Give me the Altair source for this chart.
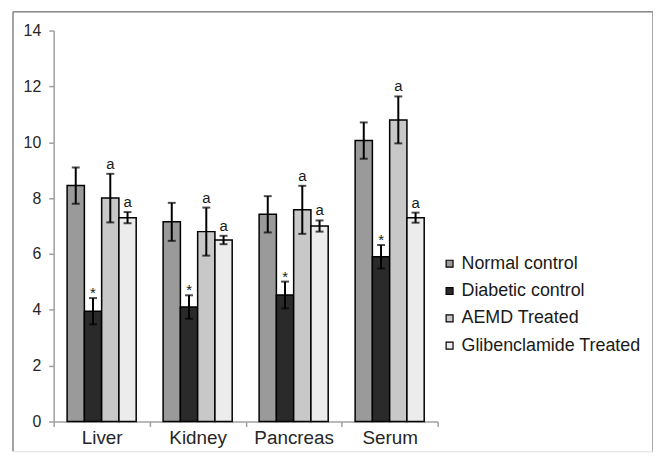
import altair as alt
import pandas as pd

organs = ["Liver", "Kidney", "Pancreas", "Serum"]
groups = ["Normal control", "Diabetic control", "AEMD Treated", "Glibenclamide Treated"]

normal = [8.45, 7.15, 7.42, 10.06]
normal_err = [0.65, 0.68, 0.65, 0.65]
diabetic = [3.95, 4.1, 4.53, 5.9]
diabetic_err = [0.47, 0.42, 0.48, 0.42]
aemd = [8.0, 6.8, 7.58, 10.8]
aemd_err = [0.87, 0.86, 0.86, 0.84]
glib = [7.3, 6.5, 7.0, 7.3]
glib_err = [0.2, 0.15, 0.2, 0.18]
marks = ["", "*", "a", "a"]

series = [normal, diabetic, aemd, glib]
errs = [normal_err, diabetic_err, aemd_err, glib_err]

rows = []
for gi, g in enumerate(groups):
    for oi, o in enumerate(organs):
        v = series[gi][oi]
        e = errs[gi][oi]
        rows.append({"organ": o, "group": g, "value": v,
                     "lo": v - e, "hi": v + e, "label": marks[gi]})
df = pd.DataFrame(rows)

W, H = 645, 443
FONT = "Liberation Sans"

xs = alt.Scale(domain=organs, range=[41, 428], paddingInner=0, paddingOuter=0)
xo = alt.Scale(domain=groups, paddingInner=0, paddingOuter=0.78)
ys = alt.Scale(domain=[0, 14], range=[413, 19], nice=False, zero=True)
fills = alt.Scale(domain=groups, range=["#9a9a9a", "#2a2a2a", "#c8c8c8", "#ececec"])

base = alt.Chart(df)

bars = base.mark_bar(stroke="black", strokeWidth=1.5).encode(
    x=alt.X("organ:N", scale=xs, sort=organs,
            axis=alt.Axis(title=None, offset=-(H - 413), labelAngle=0, tickBand="extent",
                          domainColor="#a0a0a0", tickColor="#a0a0a0", tickSize=5,
                          labelFontSize=19, labelFont=FONT, labelColor="#262626",
                          labelPadding=2, domainWidth=1.5, tickWidth=1.5)),
    xOffset=alt.XOffset("group:N", scale=xo, sort=groups),
    y=alt.Y("value:Q", scale=ys,
            axis=alt.Axis(title=None, offset=-41, values=[0, 2, 4, 6, 8, 10, 12, 14],
                          grid=False, domainColor="#a0a0a0", tickColor="#a0a0a0",
                          tickSize=5, labelFontSize=16, labelFont=FONT,
                          labelColor="#262626", labelPadding=8,
                          domainWidth=1.5, tickWidth=1.5)),
    fill=alt.Fill("group:N", scale=fills, sort=groups,
                  legend=alt.Legend(title=None, orient="none", legendX=431, legendY=245,
                                    symbolType="square", symbolSize=49,
                                    symbolStrokeColor="black", symbolStrokeWidth=1.2,
                                    labelFontSize=18, labelFont=FONT, labelColor="#1a1a1a",
                                    rowPadding=9.5, labelOffset=3, labelLimit=0, padding=0)),
)

err = base.mark_rule(color="black", strokeWidth=2).encode(
    x=alt.X("organ:N", scale=xs, sort=organs),
    xOffset=alt.XOffset("group:N", scale=xo, sort=groups),
    y=alt.Y("lo:Q", scale=ys),
    y2="hi:Q",
)

cap_hi = base.mark_tick(color="black", thickness=2, size=8, orient="horizontal").encode(
    x=alt.X("organ:N", scale=xs, sort=organs),
    xOffset=alt.XOffset("group:N", scale=xo, sort=groups),
    y=alt.Y("hi:Q", scale=ys),
)
cap_lo = base.mark_tick(color="black", thickness=2, size=8, orient="horizontal").encode(
    x=alt.X("organ:N", scale=xs, sort=organs),
    xOffset=alt.XOffset("group:N", scale=xo, sort=groups),
    y=alt.Y("lo:Q", scale=ys),
)

txt_a = base.transform_filter(alt.datum.label == "a").mark_text(
    fontSize=15, font=FONT, color="#1a1a1a", baseline="alphabetic", dy=-5).encode(
    x=alt.X("organ:N", scale=xs, sort=organs),
    xOffset=alt.XOffset("group:N", scale=xo, sort=groups),
    y=alt.Y("hi:Q", scale=ys),
    text="label:N",
)
txt_s = base.transform_filter(alt.datum.label == "*").mark_text(
    fontSize=15, font=FONT, color="#1a1a1a", baseline="alphabetic", dy=0).encode(
    x=alt.X("organ:N", scale=xs, sort=organs),
    xOffset=alt.XOffset("group:N", scale=xo, sort=groups),
    y=alt.Y("hi:Q", scale=ys),
    text="label:N",
)

frame_df = pd.DataFrame({"k": [0]})
fb = alt.Chart(frame_df)
fcol = "#8c8c8c"
left = fb.mark_rule(color=fcol, strokeWidth=1.5).encode(
    x=alt.value(0), y=alt.value(0), y2=alt.value(H))
top = fb.mark_rule(color=fcol, strokeWidth=1.5).encode(
    x=alt.value(0), x2=alt.value(W), y=alt.value(0))
right = fb.mark_rule(color=fcol, strokeWidth=1.5).encode(
    x=alt.value(W), y=alt.value(0), y2=alt.value(H))

chart = alt.layer(bars, err, cap_hi, cap_lo, txt_a, txt_s, left, top, right).properties(
    width=W, height=H,
    autosize=alt.AutoSizeParams(type="none"),
    padding={"left": 5, "top": 2, "right": 0, "bottom": 0},
).configure_view(stroke=None).configure(background="white")

chart.save("out.html", embed_options={"renderer": "svg", "actions": False})
